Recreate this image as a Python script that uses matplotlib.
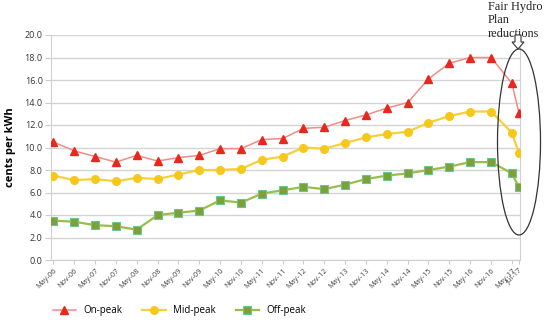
import pandas as pd
import matplotlib
matplotlib.use("Agg")
import matplotlib.pyplot as plt
from matplotlib.patches import Ellipse, Polygon

plt.rcParams['font.family'] = ['Open Sans', 'DejaVu Sans']

periods = ["May-06", "Nov-06", "May-07", "Nov-07", "May-08", "Nov-08", "May-09", "Nov-09",
           "May-10", "Nov-10", "May-11", "Nov-11", "May-12", "Nov-12", "May-13", "Nov-13",
           "May-14", "Nov-14", "May-15", "Nov-15", "May-16", "Nov-16", "May-17", "Jul-17"]
on_peak = [10.5, 9.7, 9.2, 8.7, 9.3, 8.8, 9.1, 9.3, 9.9, 9.9, 10.7, 10.8,
           11.7, 11.8, 12.4, 12.9, 13.5, 14.0, 16.1, 17.5, 18.0, 18.0, 15.7, 13.1]
mid_peak = [7.5, 7.1, 7.2, 7.0, 7.3, 7.2, 7.6, 8.0, 8.0, 8.1, 8.9, 9.2,
            10.0, 9.9, 10.4, 10.9, 11.2, 11.4, 12.2, 12.8, 13.2, 13.2, 11.3, 9.5]
off_peak = [3.5, 3.4, 3.1, 3.0, 2.7, 4.0, 4.2, 4.4, 5.3, 5.1, 5.9, 6.2,
            6.5, 6.3, 6.7, 7.2, 7.5, 7.7, 8.0, 8.3, 8.7, 8.7, 7.7, 6.5]

dates = pd.to_datetime(periods, format="%b-%y")

W, H = 555, 331
fig = plt.figure(figsize=(5.55, 3.31), dpi=100)
ax = fig.add_axes([51/W, 1-260/H, (520-51)/W, (260-35)/H])

ax.plot(dates, on_peak, color='#ef8d86', lw=1.1, marker='^', ms=5.5,
        mfc='#e8281f', mec='#e8281f', label='On-peak', zorder=3)
ax.plot(dates, mid_peak, color='#f6d03a', lw=1.6, marker='o', ms=5.5,
        mfc='#f7c81c', mec='#f7c81c', label='Mid-peak', zorder=3)
ax.plot(dates, off_peak, color='#9cbd45', lw=1.6, marker='s', ms=5.3,
        mfc='#7fa032', mec='#6cc49a', mew=0.8, label='Off-peak', zorder=3)

ax.set_ylim(0, 20)
ax.set_yticks([0, 2, 4, 6, 8, 10, 12, 14, 16, 18, 20])
ax.set_yticklabels(["{:.1f}".format(v) for v in ax.get_yticks()])
ax.set_xlim(dates[0] - pd.Timedelta(days=20), dates[-1] + pd.Timedelta(days=10))
ax.set_xticks(dates)
ax.set_xticklabels(periods, rotation=45, ha='right', rotation_mode='anchor')
ax.tick_params(axis='x', labelsize=5.3, colors='#444444', length=3, color='#cccccc', pad=2)
ax.tick_params(axis='y', labelsize=6.5, colors='#333333', length=4, color='#cccccc', pad=2)
ax.grid(axis='y', color='#d4d4d4', lw=1)
ax.set_axisbelow(True)
ax.spines['top'].set_visible(False)
for s in ['left', 'right', 'bottom']:
    ax.spines[s].set_color('#d0d0d0')

ax.set_ylabel("cents per kWh", fontsize=8, fontweight='bold')
ax.yaxis.set_label_coords(-0.075, 0.5)

fig.legend(loc='center left', bbox_to_anchor=(44/W, 1-311/H), ncol=3, frameon=False,
           fontsize=7, handlelength=2.4, columnspacing=2.0, handletextpad=0.8)

# annotation around the Fair Hydro Plan drop
fig.patches.append(Ellipse((519/W, 1-142/H), 43/W, 186/H, transform=fig.transFigure,
                           fill=False, ec='#333333', lw=0.9, zorder=5))
fig.text(488/W, 1-1/H, "Fair Hydro\nPlan\nreductions", family=['Liberation Serif', 'DejaVu Serif'],
         fontsize=8.8, va='top', ha='left', linespacing=1.15, color='#222222')
# hollow down arrow
arrow_px = [(515, 35), (521, 35), (521, 42), (524, 42), (518, 49), (512, 42), (515, 42)]
fig.patches.append(Polygon([(x / W, 1 - y / H) for x, y in arrow_px], closed=True,
                           transform=fig.transFigure, fc='white', ec='#333333', lw=0.8, zorder=6))

fig.savefig("out.png", dpi=100)
